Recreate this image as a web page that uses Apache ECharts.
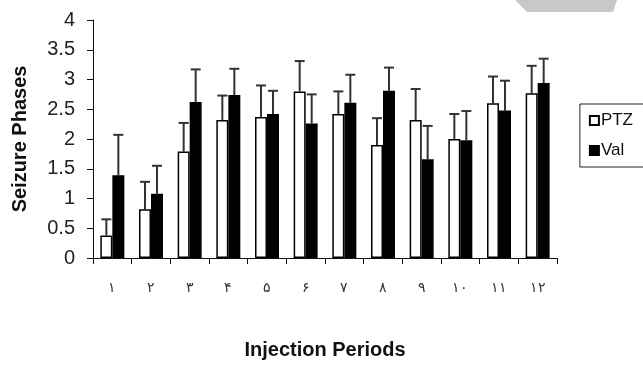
<!DOCTYPE html>
<html>
<head>
<meta charset="utf-8">
<script src="https://cdn.jsdelivr.net/npm/echarts@6/dist/echarts.min.js"></script>
<style>
  html, body { margin: 0; padding: 0; background: #fff; }
  #chart { width: 643px; height: 365px; }
</style>
</head>
<body>
<div id="chart"></div>
<script>
// injection periods (persian digits as in the original)
var periods = ["۱", "۲", "۳", "۴", "۵", "۶", "۷", "۸", "۹", "۱۰", "۱۱", "۱۲"];
var ptzMean = [0.38, 0.82, 1.79, 2.32, 2.37, 2.80, 2.42, 1.90, 2.32, 2.00, 2.60, 2.77];
var ptzSem = [0.27, 0.46, 0.48, 0.41, 0.53, 0.51, 0.38, 0.45, 0.52, 0.42, 0.45, 0.46];
var valMean = [1.39, 1.08, 2.62, 2.74, 2.42, 2.26, 2.61, 2.81, 1.66, 1.98, 2.48, 2.94];
var valSem = [0.68, 0.47, 0.55, 0.44, 0.39, 0.49, 0.47, 0.39, 0.56, 0.49, 0.50, 0.41];

var font = "Arial, 'Liberation Sans', sans-serif";
var barW = 12;

// upward-only error bar, shifted onto its own bar
function errBar(shift) {
  return function(params, api) {
    var i = api.value(0);
    var base = api.coord([i, api.value(1)]);
    var top = api.coord([i, api.value(2)]);
    var x = base[0] + shift;
    var cap = 5;
    return {
      type: "group",
      children: [
        { type: "line", shape: { x1: x, y1: base[1], x2: x, y2: top[1] }, style: { stroke: "#333", lineWidth: 2 } },
        { type: "line", shape: { x1: x - cap, y1: top[1], x2: x + cap, y2: top[1] }, style: { stroke: "#333", lineWidth: 2 } }
      ]
    };
  };
}

function errData(mean, sem) {
  return mean.map(function(m, i) { return [i, m, m + sem[i]]; });
}

var chart = echarts.init(document.getElementById("chart"));
chart.setOption({
  animation: false,
  backgroundColor: "#fff",
  grid: { left: 93, right: 86, top: 20, bottom: 98 },
  legend: {
    orient: "vertical",
    right: -40,
    top: 104,
    padding: [8, 50, 8, 9],
    borderColor: "#222",
    borderWidth: 1,
    itemWidth: 9,
    itemHeight: 9,
    itemGap: 13,
    textStyle: { fontFamily: font, fontSize: 17, color: "#111", padding: [0, 0, 0, -3] },
    data: [
      { name: "PTZ", icon: "rect" },
      { name: "Val", icon: "rect" }
    ]
  },
  xAxis: {
    type: "category",
    data: periods,
    boundaryGap: true,
    name: "Injection Periods",
    nameLocation: "middle",
    nameGap: 82,
    nameTextStyle: { fontFamily: font, fontSize: 20, fontWeight: "bold", color: "#111" },
    axisLine: { lineStyle: { color: "#111", width: 1 } },
    axisTick: { show: true, length: 6, lineStyle: { color: "#111" } },
    axisLabel: { margin: 23, fontSize: 14, color: "#333" }
  },
  yAxis: {
    type: "value",
    min: 0,
    max: 4,
    interval: 0.5,
    name: "Seizure Phases",
    nameLocation: "middle",
    nameGap: 63,
    nameTextStyle: { fontFamily: font, fontSize: 20, fontWeight: "bold", color: "#111" },
    axisLine: { show: true, lineStyle: { color: "#111", width: 1 } },
    axisTick: { show: true, length: 6, lineStyle: { color: "#111" } },
    axisLabel: { margin: 18, fontFamily: font, fontSize: 20, color: "#222" },
    splitLine: { show: false }
  },
  series: [
    {
      name: "PTZ",
      type: "bar",
      barWidth: barW,
      barGap: "0%",
      itemStyle: { color: "#fff", borderColor: "#000", borderWidth: 1.5 },
      data: ptzMean
    },
    {
      name: "Val",
      type: "bar",
      barWidth: barW,
      barGap: "0%",
      itemStyle: { color: "#000", borderColor: "#000", borderWidth: 1.5 },
      data: valMean
    },
    {
      type: "custom",
      renderItem: errBar(-barW / 2),
      encode: { x: 0, y: [1, 2] },
      z: 1,
      data: errData(ptzMean, ptzSem)
    },
    {
      type: "custom",
      renderItem: errBar(barW / 2),
      encode: { x: 0, y: [1, 2] },
      z: 1,
      data: errData(valMean, valSem)
    }
  ],
  graphic: [
    {
      type: "polygon",
      shape: { points: [[515, 0], [617, 0], [613, 12], [527, 12]] },
      style: { fill: "#c8c8c8" },
      silent: true
    }
  ]
});
</script>
</body>
</html>
